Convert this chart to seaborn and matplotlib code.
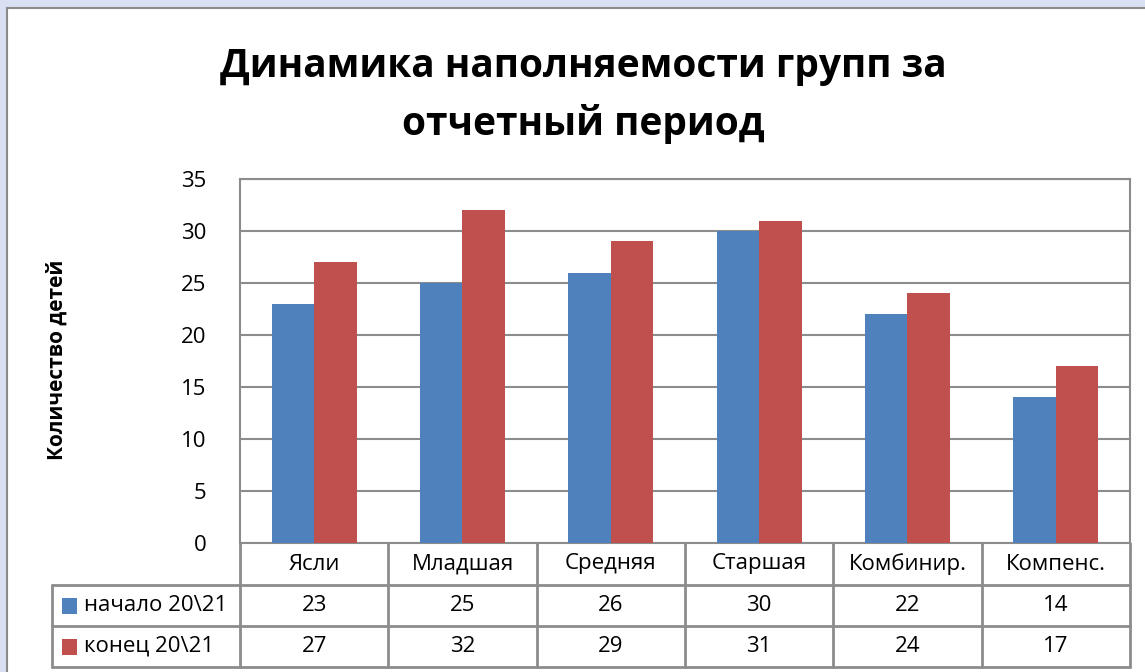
import matplotlib
matplotlib.use("Agg")
from matplotlib import pyplot as plt
from matplotlib.patches import Rectangle
import numpy as np
import pandas as pd
import seaborn as sns

# values
groups = ["Ясли", "Младшая", "Средняя", "Старшая", "Комбинир.", "Компенс."]
series_names = ["начало 20\\21", "конец 20\\21"]
start_vals = [23, 25, 26, 30, 22, 14]
end_vals = [27, 32, 29, 31, 24, 17]
yticks = [0, 5, 10, 15, 20, 25, 30, 35]

title_lines = ["Динамика наполняемости групп за", "отчетный период"]
ylabel = "Количество детей"
colors = ["#4F81BD", "#C0504D"]
line_gray = "#8c8c8c"

df = pd.DataFrame({
    "group": groups * 2,
    "series": [series_names[0]] * len(groups) + [series_names[1]] * len(groups),
    "value": start_vals + end_vals,
})

sns.set_theme(style="white")
plt.rcParams["font.family"] = ["Open Sans", "DejaVu Sans"]
plt.rcParams["text.color"] = "black"
plt.rcParams["ytick.color"] = "black"
plt.rcParams["ytick.labelcolor"] = "black"

W, H = 1145, 672
fig = plt.figure(figsize=(W / 100, H / 100), dpi=100)
fig.patch.set_facecolor("#d9e0f3")

# white chart area with grey frame
fig.patches.append(Rectangle((7 / W, -0.05), 1.1, (H - 8) / H + 0.05, transform=fig.transFigure,
                             facecolor="white", edgecolor="#8a8a8a", linewidth=1.5, zorder=-5))

ax_l, ax_r, ax_t, ax_b = 240, 1130, 179, 543
ax = fig.add_axes([ax_l / W, 1 - ax_b / H, (ax_r - ax_l) / W, (ax_b - ax_t) / H])
ax.set_facecolor("white")
ax.set_zorder(2)

sns.barplot(data=df, x="group", y="value", hue="series", palette=colors, saturation=1,
            width=0.575, gap=0, linewidth=0, ax=ax, legend=False, zorder=3)

ax.set_ylim(0, 35)
ax.set_xlim(-0.5, len(groups) - 0.5)
ax.set_yticks(yticks)
ax.set_yticklabels([str(t) for t in yticks], fontsize=16)
ax.tick_params(axis="y", length=0, pad=24)
ax.set_xticks([])
ax.set_xlabel("")
ax.set_ylabel("")
ax.set_axisbelow(True)
ax.yaxis.grid(True, color=line_gray, linewidth=1.5)
for side in ["top", "right", "bottom", "left"]:
    ax.spines[side].set_color(line_gray)
    ax.spines[side].set_linewidth(1.5)

fig.text(57 / W, 1 - 360 / H, ylabel, rotation=90, ha="center", va="center",
         fontsize=15, fontweight="bold")

fig.text(583 / W, 1 - 77 / H, title_lines[0], ha="center", va="baseline",
         fontsize=28, fontweight="bold")
fig.text(583 / W, 1 - 135 / H, title_lines[1], ha="center", va="baseline",
         fontsize=28, fontweight="bold")

# data table below the plot, in pixel coords converted to axes fractions
def ax_x(px):
    return (px - ax_l) / (ax_r - ax_l)

def ax_y(py):
    return (ax_b - py) / (ax_b - ax_t)

row_y = [543, 585, 626, 667]
left_px = 52
col_px = [ax_l + i * (ax_r - ax_l) / len(groups) for i in range(len(groups) + 1)]
kw = dict(transform=ax.transAxes, clip_on=False, color=line_gray, linewidth=2)

for y in row_y[1:]:
    ax.plot([ax_x(left_px), ax_x(ax_r)], [ax_y(y), ax_y(y)], **kw)
for x in col_px:
    ax.plot([ax_x(x), ax_x(x)], [ax_y(row_y[0]), ax_y(row_y[-1])], **kw)
ax.plot([ax_x(left_px), ax_x(left_px)], [ax_y(row_y[1]), ax_y(row_y[-1])], **kw)

rows = [start_vals, end_vals]
for i, g in enumerate(groups):
    cx = ax_x((col_px[i] + col_px[i + 1]) / 2)
    ax.text(cx, ax_y((row_y[0] + row_y[1]) / 2), g, transform=ax.transAxes,
            ha="center", va="center", fontsize=16)
    for r, vals in enumerate(rows):
        ax.text(cx, ax_y((row_y[r + 1] + row_y[r + 2]) / 2), str(vals[i]),
                transform=ax.transAxes, ha="center", va="center", fontsize=16)

for r, name in enumerate(series_names):
    cy = (row_y[r + 1] + row_y[r + 2]) / 2
    ax.add_patch(Rectangle((ax_x(62), ax_y(cy + 8)), ax_x(77) - ax_x(62), ax_y(cy - 8) - ax_y(cy + 8),
                           transform=ax.transAxes, clip_on=False, facecolor=colors[r], linewidth=0))
    ax.text(ax_x(84), ax_y(cy), name, transform=ax.transAxes, ha="left", va="center", fontsize=16)

fig.savefig("out.png", dpi=100, facecolor=fig.get_facecolor())
